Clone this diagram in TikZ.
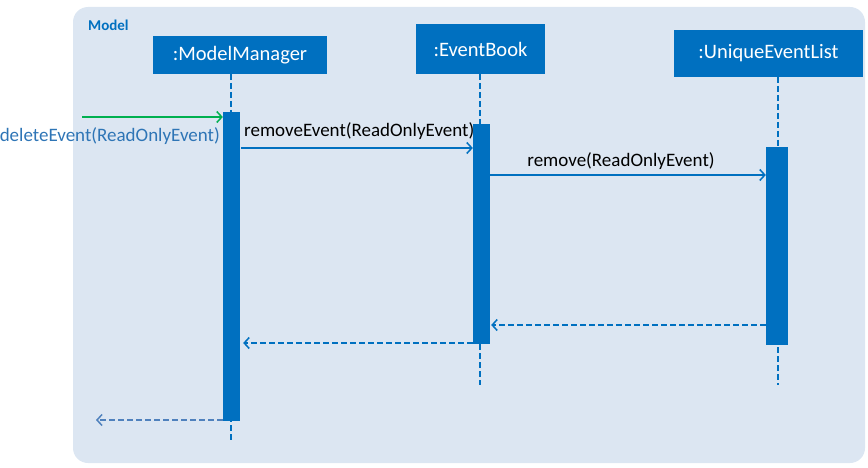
\documentclass[tikz,border=0pt]{standalone}
\usepackage{fontspec}
\setmainfont{Carlito}
\usetikzlibrary{arrows.meta}
\definecolor{mblue}{HTML}{0070C0}
\definecolor{frame}{HTML}{DCE6F2}
\definecolor{mgreen}{HTML}{00B050}
\definecolor{lblue}{HTML}{2E75B6}
\definecolor{rblue}{HTML}{4F81BD}
\begin{document}
\begin{tikzpicture}[x=1pt,y=-1pt,
  obj/.style={fill=mblue,text=white,inner sep=0pt,font=\fontsize{20.5}{22}\selectfont},
  bar/.style={fill=mblue,draw=none},
  life/.style={mblue,line width=2pt,dash pattern=on 6pt off 3pt},
  msg/.style={mblue,line width=1.5pt,-{Straight Barb[length=5pt,width=11pt,line width=1.5pt]}},
  ret/.style={mblue,line width=1.5pt,dash pattern=on 6pt off 3pt,-{Straight Barb[length=5pt,width=11pt,line width=1.5pt]}},
  lbl/.style={inner sep=0pt,font=\fontsize{19}{21}\selectfont}]
\useasboundingbox (0,0) rectangle (868,468);
\fill[frame,rounded corners=15pt] (73,7) rectangle (865,463);
\node[anchor=west,inner sep=0pt,text=mblue,font=\fontsize{15}{17}\selectfont\bfseries] (title) at (88,25) {Model};
% objects
\node[obj,minimum width=174pt,minimum height=38pt] (mm) at (240,55) {:ModelManager};
\node[obj,minimum width=129pt,minimum height=50pt] (eb) at (480.5,49) {:EventBook};
\node[obj,minimum width=189pt,minimum height=47pt] (uel) at (768.5,53.5) {:UniqueEventList};
% lifeline ends
\coordinate (mmend) at (231,440);
\coordinate (ebend) at (480,385);
\coordinate (uelend) at (778,385);
\draw[life] (231,74) -- (mmend);
\draw[life] (480,74) -- (ebend);
\draw[life] (778,77) -- (uelend);
% activation bars
\node[bar,minimum width=17pt,minimum height=309pt,inner sep=0pt] (amm) at (231.5,266.5) {};
\node[bar,minimum width=17pt,minimum height=220pt,inner sep=0pt] (aeb) at (481.5,234) {};
\node[bar,minimum width=22pt,minimum height=198pt,inner sep=0pt] (auel) at (777,246) {};
% incoming
\coordinate (start) at (82,117);
\coordinate (retend) at (96,420);
\draw[mgreen,line width=1.5pt,-{Straight Barb[length=5pt,width=11pt,line width=1.5pt]}] (start) -- (amm.west |- start);
\node[lbl,text=lblue,anchor=east] (l0) at (220,136) {deleteEvent(ReadOnlyEvent)};
% messages
\draw[msg] ([xshift=1pt]amm.east |- 0,148) -- (aeb.west |- 0,148);
\node[lbl,anchor=south west] (l1) at (244,140) {removeEvent(ReadOnlyEvent)};
\draw[msg] (aeb.east |- 0,175) -- (auel.west |- 0,175);
\node[lbl,anchor=south] (l2) at (621,170) {remove(ReadOnlyEvent)};
% returns
\draw[ret] (auel.west |- 0,325) -- ([xshift=1pt]aeb.east |- 0,325);
\draw[ret] (aeb.west |- 0,343) -- ([xshift=3pt]amm.east |- 0,343);
\draw[ret,rblue] (amm.west |- 0,420) -- (retend);
\end{tikzpicture}
\end{document}
